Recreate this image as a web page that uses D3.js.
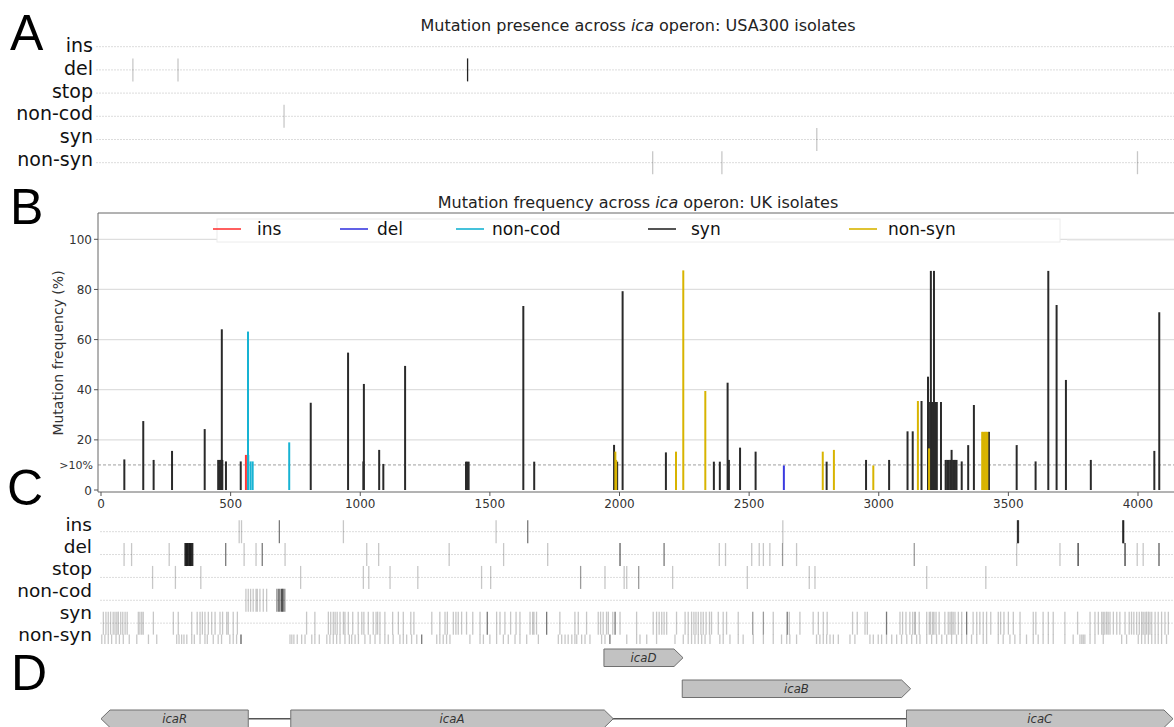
<!DOCTYPE html>
<html>
<head>
<meta charset="utf-8">
<script src="https://cdn.jsdelivr.net/npm/d3@7"></script>
<style>
body { margin: 0; background: #fff; }
svg { display: block; font-family: "DejaVu Sans", sans-serif; }
</style>
</head>
<body>
<div id="chart"></div>
<script>
"use strict";

// data: mutation classes (rows of panels A and C)
const rowNames = ["ins", "del", "stop", "non-cod", "syn", "non-syn"];

// panel A: USA300 presence, positions in bp ([pos, n] = n isolates at same spot)
const usaIns = [];
const usaDel = [123, 297, [1414, 8]];
const usaStop = [];
const usaNonCod = [706];
const usaSyn = [2761];
const usaNonSyn = [2128, 2395, 3998];

// panel B: UK frequency, [position bp, frequency %]
const ukIns = [[559, 14]];
const ukDel = [[2634, 9.8]];
const ukNonCod = [[567, 63.2], [568, 14], [577, 11.4], [585, 11.4], [726, 19]];
const ukSyn = [[90, 12.2], [163, 27.5], [203, 12], [274, 15.6], [400, 24.3], [452, 12], [458, 12], [463, 12], [466, 64.1], [468, 12],
    [482, 11.4], [539, 11.4], [809, 34.8], [953, 54.8], [1012, 11.4], [1014, 42.3], [1073, 16], [1089, 10.4], [1173, 49.5],
    [1408, 11.3], [1413, 11.3], [1418, 11.3], [1629, 73.4], [1671, 11.3], [1979, 18], [1991, 11.3], [2012, 79.3], [2179, 15],
    [2364, 11.3], [2387, 11.3], [2417, 42.8], [2422, 12], [2465, 16.9], [2525, 15.3], [2799, 11.3], [2951, 12], [3040, 12],
    [3111, 23.4], [3131, 23.4], [3165, 35.5], [3190, 45.2], [3198, 35.1], [3201, 87.4], [3203, 35.1], [3206, 35.1], [3209, 35.1],
    [3213, 87.4], [3216, 35.1], [3220, 35.1], [3224, 35.1], [3240, 35.1], [3258, 12], [3264, 12], [3270, 12], [3276, 12],
    [3281, 16], [3282, 12], [3288, 12], [3294, 12], [3300, 12], [3320, 11.4], [3345, 17.9], [3367, 33.9], [3425, 23.2],
    [3532, 17.9], [3605, 11.4], [3654, 87.4], [3686, 73.8], [3722, 43.9], [3818, 12], [4063, 15.6], [4082, 70.9]];
const ukNonSyn = [[1984, 15.3], [1987, 12], [2218, 15.3], [2246, 87.6], [2331, 39.5], [2784, 15.3], [2827, 16], [2979, 9.8],
    [3151, 35.5], [3194, 16.6], [3399, 23.2], [3404, 23.2], [3409, 23.2], [3414, 23.2], [3419, 23.2]];

// panel C: UK presence, positions in bp ([pos, n] = n isolates at same spot)
const allIns = [533, 542, [688, 3], 935, 1524, [1646, 3], 2630, [3535, 4], [3537, 4], [3539, 4], [3941, 4], [3943, 4], [3945, 4]];
const allDel = [89, 118, 263, [324, 6], [327, 6], [330, 6], [333, 6], [336, 6], [339, 6], [342, 6], [345, 6], [348, 6], [351, 6], [354, 6],
    [481, 3], 552, 598, [622, 3], 710, 1025, 1071, 1343, 1553, 1723, [2002, 4], [2172, 3], 2385, 2409, 2510, 2539, 2555, 2580,
    [2629, 2], 2683, [3137, 2], 3532, 3699, [3769, 6], [3950, 6], 3997, 4020, [4081, 4]];
const allStop = [199, 287, 385, 770, 1012, 1033, 1115, 1222, 1468, 1503, [1850, 2], 1944, 2018, 2028, [2074, 2], 2205, 2493,
    2732, 2754, 3185, 3413];
const allNonCod = [559, 568, 577, 587, 598, 603, 613, 626, 639, [678, 2], [684, 3], [690, 4], [697, 5], [701, 4], [706, 3], 711];
const allSyn = [9, 19, 28, 37, 47, 54, 61, 67, 76, 84, 93, 101, 144, 150, 157, 163, 202, 279, 298, 350, 371, 382, 391, 401, 414,
    427, 440, 459, 469, 485, 491, 510, 526, 793, 825, 877, 886, 896, 903, 911, 922, 935, 941, 954, 971, 992, 1006, 1014, 1031,
    1050, 1061, 1067, 1076, 1095, 1125, 1147, 1166, 1195, 1207, 1276, 1307, 1327, 1336, 1359, 1369, 1378, 1391, 1410, 1434,
    1462, [1490, 3], 1526, 1539, 1558, 1580, 1601, 1616, 1655, 1665, 1670, 1680, [1719, 3], 1770, 1828, 1841, 1873, 1918, 1927,
    1937, 1950, 1957, 1974, [1983, 3], 2002, 2066, 2130, 2143, 2153, 2163, 2172, 2182, 2220, 2253, 2265, 2278, 2287, 2295,
    2304, 2314, 2323, 2334, 2347, 2355, 2381, 2400, 2413, 2458, [2514, 2], [2555, 2], 2593, [2647, 3], 2655, 2696, 2747, 2767,
    2786, 2801, 2899, 2917, 2947, 2956, [3030, 3], 3082, 3092, 3105, 3120, 3131, [3140, 2], 3156, 3185, 3195, 3200, 3208,
    3213, 3221, 3233, 3255, 3268, 3275, 3281, 3287, 3294, 3307, 3320, [3339, 3], 3364, 3378, 3390, 3403, 3416, 3432, 3461,
    3470, 3483, 3500, 3519, 3545, 3596, 3606, 3634, 3654, 3673, 3718, 3767, 3815, 3834, 3847, 3860, 3866, 3872, 3879, 3885,
    3892, 3905, 3918, 3930, 3950, 3966, 3975, 3984, 3995, 4005, 4014, 4020, 4027, 4033, 4040, 4046, 4053, 4066, 4078, 4091,
    4104, 4117];
const allNonSyn = [3, 15, 28, 41, 58, 71, 86, 109, 138, 183, 215, 292, 301, 311, 320, 331, 350, 360, 382, 401, 410, 433, 452,
    465, 497, 510, 523, [540, 4], 729, 736, 744, 757, 774, 787, 813, 825, 842, 871, 883, 896, 909, 922, 941, 958, 967, 980,
    993, 1018, 1038, 1057, 1076, 1095, 1108, 1127, 1153, 1166, 1179, 1198, 1218, [1237, 3], 1295, 1307, 1320, 1333, 1346,
    1423, 1462, 1475, 1500, 1526, 1552, 1571, 1597, 1616, 1642, 1687, 1764, 1777, 1790, 1802, 1816, 1828, 1835, 1854, 1867,
    1886, 1931, 1944, [1963, 3], 2028, 2066, 2079, 2105, 2143, 2214, 2246, 2265, 2278, 2291, 2304, 2317, 2330, 2349, 2387,
    2400, 2426, 2458, 2477, 2516, 2555, 2593, 2625, 2645, 2657, 2683, 2760, 2773, 2786, 2799, 2812, 2825, 2844, 2889, 2908,
    2966, 2979, 2998, 3011, 3030, 3050, 3069, 3088, 3108, 3127, 3146, 3159, 3185, 3204, 3223, 3243, 3262, 3281, 3300, 3320,
    3339, 3358, 3378, 3403, 3416, 3461, 3480, 3506, 3525, 3545, 3570, 3596, 3615, 3634, 3654, 3673, 3718, 3750, 3776, 3783,
    3789, 3795, 3815, 3834, 3866, 3937, 3956, 4001, 4014, 4027, 4040, 4053, 4066, 4078, 4091, 4110];

// panel D: genes of the ica operon (bp)
const geneNames = ["icaR", "icaA", "icaD", "icaB", "icaC"];
const geneStart = [0, 732, 1940, 2242, 3107];
const geneEnd = [568, 1976, 2245, 3123, 4135];
const geneStrand = [-1, 1, 1, 1, 1];
const geneRow = [2, 2, 0, 1, 2];

// axis ticks
const xTicks = [0, 500, 1000, 1500, 2000, 2500, 3000, 3500, 4000];
const yTicks = [0, 20, 40, 60, 80, 100];



// consts
const width = 1174, height = 727;
const tickAlpha = 0.22;
const labelShiftA = [5.5, 5, 4.5, 4, 3.5, 3];
const labelShiftC = [-0.5, -1.5, -2.5, -3.5, -4.5, -5.5];
const typeColor = {"ins": "#ff3838", "del": "#3a3ae0", "non-cod": "#17b3d3", "syn": "#2a2a2a", "non-syn": "#d8b400"};



// svg
let svg = d3.select("#chart").append("svg")
.attr("width", width)
.attr("height", height);

svg.append("rect")
.attr("width", width)
.attr("height", height)
.attr("fill", "#fff");



// scales
let scaleX = d3.scaleLinear()
.domain([0, 4000])
.range([101, 1138]);

let scaleY = d3.scaleLinear()
.domain([0, 100])
.range([490, 239.3]);

let rowA = d3.scalePoint()
.domain(rowNames)
.range([46.7, 162.7]);

let rowC = d3.scalePoint()
.domain(rowNames)
.range([531.7, 646]);



// panel letters
[["A", 10, 50], ["B", 10, 224], ["C", 7, 505], ["D", 11, 690]].forEach(l => {
    svg.append("text")
    .attr("x", l[1])
    .attr("y", l[2])
    .attr("font-family", "Liberation Sans, Arial, sans-serif")
    .attr("font-size", 50)
    .attr("fill", "#000")
    .text(l[0]);
});



// title with italic gene name
function title(y, before, after) {
    let t = svg.append("text")
    .attr("x", 638)
    .attr("y", y)
    .attr("text-anchor", "middle")
    .attr("font-size", 16)
    .attr("fill", "#222");
    t.append("tspan").text(before);
    t.append("tspan").attr("font-style", "italic").text("ica");
    t.append("tspan").text(after);
}



// presence rows (panels A and C)
function presenceRows(g, gLabels, rows, scaleRow, x0, labelX, shifts, fontSize) {
    rowNames.forEach((name, r) => {
        g.append("line")
        .attr("x1", x0)
        .attr("x2", width)
        .attr("y1", scaleRow(name))
        .attr("y2", scaleRow(name))
        .attr("stroke", "#dcdcdc")
        .attr("stroke-width", 1)
        .attr("stroke-dasharray", "2,1");

        gLabels.append("text")
        .attr("x", labelX)
        .attr("y", scaleRow(name) + shifts[r])
        .attr("text-anchor", "end")
        .attr("font-size", fontSize)
        .attr("fill", "#111")
        .text(name);

        let entries = rows[r].map(d => Array.isArray(d) ? d : [d, 1]);
        g.append("g")
        .selectAll("line")
        .data(entries)
        .enter()
        .append("line")
        .attr("x1", d => scaleX(d[0]))
        .attr("x2", d => scaleX(d[0]))
        .attr("y1", scaleRow(name) - 11.5)
        .attr("y2", scaleRow(name) + 11.5)
        .attr("stroke", "#000")
        .attr("stroke-width", 1.3)
        .attr("stroke-opacity", d => 1 - Math.pow(1 - tickAlpha, d[1]));
    });
}



// panel A
title(31, "Mutation presence across ", " operon: USA300 isolates");
presenceRows(svg.append("g"), svg.append("g"), [usaIns, usaDel, usaStop, usaNonCod, usaSyn, usaNonSyn],
    rowA, 96, 93, labelShiftA, 19);



// panel B
title(208, "Mutation frequency across ", " operon: UK isolates");

let chartB = svg.append("g");

// grid
chartB.selectAll("line.grid")
.data(yTicks.filter(d => d > 0))
.enter()
.append("line")
.attr("class", "grid")
.attr("x1", 98)
.attr("x2", width)
.attr("y1", d => scaleY(d))
.attr("y2", d => scaleY(d))
.attr("stroke", "#dedede")
.attr("stroke-width", 1.2);

chartB.append("line")
.attr("x1", 98)
.attr("x2", width)
.attr("y1", scaleY(10))
.attr("y2", scaleY(10))
.attr("stroke", "#888")
.attr("stroke-width", 0.8)
.attr("stroke-dasharray", "3,2");

// bars
[["ins", ukIns], ["del", ukDel], ["non-cod", ukNonCod], ["syn", ukSyn], ["non-syn", ukNonSyn]].forEach(s => {
    chartB.append("g")
    .selectAll("line")
    .data(s[1])
    .enter()
    .append("line")
    .attr("x1", d => scaleX(d[0]))
    .attr("x2", d => scaleX(d[0]))
    .attr("y1", scaleY(0))
    .attr("y2", d => scaleY(d[1]))
    .attr("stroke", typeColor[s[0]])
    .attr("stroke-width", 2);
});

// frame
chartB.append("path")
.attr("d", `M${width},213 H98 V492 H${width}`)
.attr("fill", "none")
.attr("stroke", "#666")
.attr("stroke-width", 1);

// y axis
let yAxisG = chartB.append("g");
yAxisG.selectAll("g")
.data(yTicks)
.enter()
.append("g")
.each(function(d) {
    d3.select(this).append("line")
    .attr("x1", 94).attr("x2", 98)
    .attr("y1", scaleY(d)).attr("y2", scaleY(d))
    .attr("stroke", "#555");
    d3.select(this).append("text")
    .attr("x", 92)
    .attr("y", scaleY(d) + 4.5)
    .attr("text-anchor", "end")
    .attr("font-size", 12)
    .attr("fill", "#333")
    .text(d);
});
yAxisG.append("text")
.attr("x", 93)
.attr("y", scaleY(10) + 4)
.attr("text-anchor", "end")
.attr("font-size", 11)
.attr("fill", "#333")
.text(">10%");

svg.append("text")
.attr("transform", `translate(63, 353) rotate(-90)`)
.attr("text-anchor", "middle")
.attr("font-size", 14)
.attr("fill", "#333")
.text("Mutation frequency (%)");

// x axis
chartB.selectAll("g.xtick")
.data(xTicks)
.enter()
.append("g")
.attr("class", "xtick")
.each(function(d) {
    d3.select(this).append("line")
    .attr("x1", scaleX(d)).attr("x2", scaleX(d))
    .attr("y1", 492).attr("y2", 496)
    .attr("stroke", "#555");
    d3.select(this).append("text")
    .attr("x", scaleX(d))
    .attr("y", 508)
    .attr("text-anchor", "middle")
    .attr("font-size", 12)
    .attr("fill", "#333")
    .text(d);
});

// legend
const legendNames = ["ins", "del", "non-cod", "syn", "non-syn"];
const legendLineX = [213, 340, 456, 648, 849];
const legendTextX = [257, 377, 492, 691, 888];
let legend = chartB.append("g");
legend.append("rect")
.attr("x", 217).attr("y", 219)
.attr("width", 843).attr("height", 23)
.attr("fill", "#fff")
.attr("stroke", "#ececec");
legend.append("line")
.attr("x1", 1067).attr("x2", width)
.attr("y1", 240).attr("y2", 240)
.attr("stroke", "#e6e6e6");
legendNames.forEach((name, i) => {
    legend.append("line")
    .attr("x1", legendLineX[i]).attr("x2", legendLineX[i] + 28)
    .attr("y1", 229).attr("y2", 229)
    .attr("stroke", typeColor[name])
    .attr("stroke-width", 1.6);
    legend.append("text")
    .attr("x", legendTextX[i])
    .attr("y", 235)
    .attr("font-size", 17)
    .attr("fill", "#111")
    .text(name);
});



// panel C
svg.append("clipPath")
.attr("id", "clipC")
.append("rect")
.attr("x", 0).attr("y", 512)
.attr("width", width).attr("height", 132);

presenceRows(svg.append("g").attr("clip-path", "url(#clipC)"), svg.append("g"),
    [allIns, allDel, allStop, allNonCod, allSyn, allNonSyn], rowC, 100, 92, labelShiftC, 18.5);



// panel D: genes
const geneRowY = [649, 680, 710];
const geneH = 17.5, headLen = 9;
let genes = svg.append("g");

genes.append("line")
.attr("x1", scaleX(geneEnd[0]))
.attr("x2", scaleX(geneStart[4]))
.attr("y1", geneRowY[2] + geneH / 2)
.attr("y2", geneRowY[2] + geneH / 2)
.attr("stroke", "#555")
.attr("stroke-width", 1.5);

geneNames.forEach((name, i) => {
    let x0 = scaleX(geneStart[i]), x1 = scaleX(geneEnd[i]);
    let y0 = geneRowY[geneRow[i]], y1 = y0 + geneH, ym = y0 + geneH / 2;
    let p = geneStrand[i] > 0
        ? `M${x0},${y0} H${x1 - headLen} L${x1},${ym} L${x1 - headLen},${y1} H${x0} Z`
        : `M${x1},${y0} H${x0 + headLen} L${x0},${ym} L${x0 + headLen},${y1} H${x1} Z`;
    genes.append("path")
    .attr("d", p)
    .attr("fill", "#c2c2c2")
    .attr("stroke", "#707070")
    .attr("stroke-width", 1);
    genes.append("text")
    .attr("x", (x0 + x1) / 2)
    .attr("y", ym + 4.5)
    .attr("text-anchor", "middle")
    .attr("font-family", "DejaVu Sans Condensed, DejaVu Sans, sans-serif")
    .attr("font-stretch", "condensed")
    .attr("font-style", "italic")
    .attr("font-size", 13)
    .attr("fill", "#333")
    .text(name);
});
</script>
</body>
</html>
